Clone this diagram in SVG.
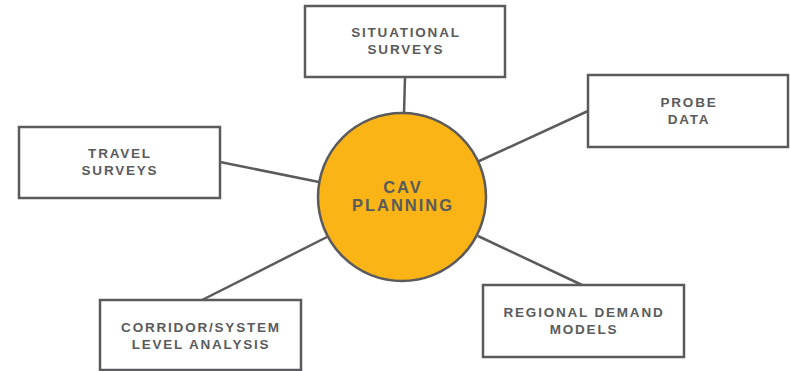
<svg xmlns="http://www.w3.org/2000/svg" width="790" height="371" viewBox="0 0 790 371">
<style>
.box{fill:#fff;stroke:#5b5b5d;stroke-width:2.5}
.hub{fill:#fbb415;stroke:#5b5b5d;stroke-width:2.5}
.con{stroke:#5b5b5d;stroke-width:2.5;fill:none}
.t{font-family:"Liberation Sans",Arial,sans-serif;font-weight:bold;font-size:13.5px;letter-spacing:1.8px;fill:#5a5b5d;text-anchor:middle}
.h{font-size:16.5px;letter-spacing:2px}
</style>
<rect width="790" height="371" fill="#fff"/>
<g id="connectors">
<line class="con" x1="405" y1="77" x2="404" y2="114"/>
<line class="con" x1="220" y1="162" x2="319" y2="182"/>
<line class="con" x1="588" y1="111" x2="477" y2="162"/>
<line class="con" x1="202" y1="300" x2="327" y2="237"/>
<line class="con" x1="582" y1="285" x2="478" y2="236"/>
</g>
<g id="hub">
<circle class="hub" cx="402" cy="197" r="84"/>
<text class="t h" x="403" y="193">CAV</text>
<text class="t h" x="403" y="211">PLANNING</text>
</g>
<g id="situational">
<rect class="box" x="305" y="6" width="200" height="71"/>
<text class="t" x="406" y="37">SITUATIONAL</text>
<text class="t" x="406" y="54">SURVEYS</text>
</g>
<g id="travel">
<rect class="box" x="19" y="127" width="201" height="71"/>
<text class="t" x="120" y="158">TRAVEL</text>
<text class="t" x="120" y="175">SURVEYS</text>
</g>
<g id="probe">
<rect class="box" x="588" y="75" width="200" height="72"/>
<text class="t" x="689" y="107">PROBE</text>
<text class="t" x="689" y="124">DATA</text>
</g>
<g id="corridor">
<rect class="box" x="100" y="300" width="201" height="70"/>
<text class="t" x="201" y="332">CORRIDOR/SYSTEM</text>
<text class="t" x="201" y="349">LEVEL ANALYSIS</text>
</g>
<g id="regional">
<rect class="box" x="483" y="285" width="201" height="72"/>
<text class="t" x="584" y="317">REGIONAL DEMAND</text>
<text class="t" x="584" y="334">MODELS</text>
</g>
</svg>
